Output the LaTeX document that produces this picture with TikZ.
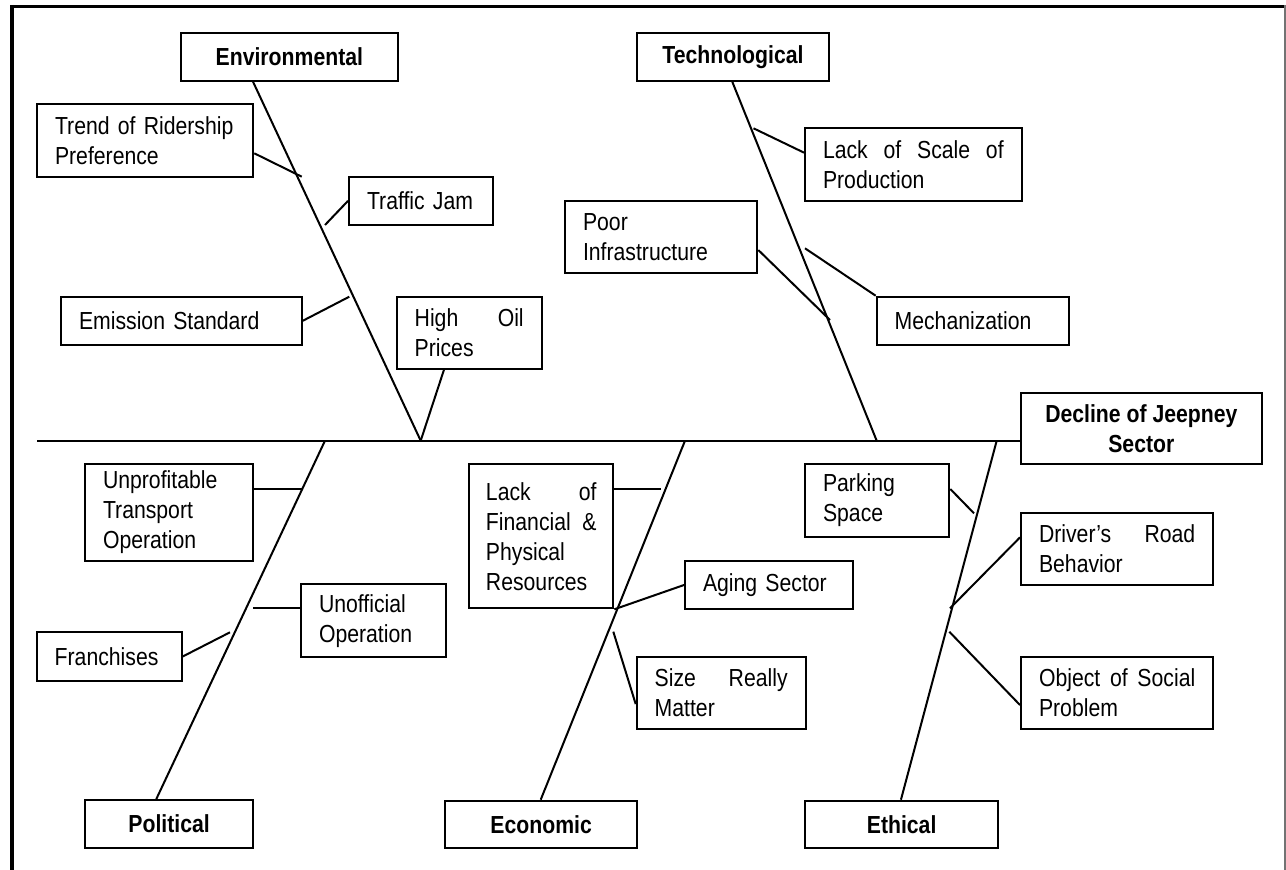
\documentclass[tikz,border=0pt]{standalone}
\usepackage{fontspec}
\setmainfont{Liberation Sans}[FakeStretch=0.86]
\usetikzlibrary{calc}
\begin{document}
\begin{tikzpicture}[x=0.75pt,y=-0.75pt,
  font=\fontsize{18.5pt}{22.5pt}\selectfont,
  line width=1.5pt,
  cbox/.style n args={3}{draw, line width=1.5pt, inner sep=0pt, align=left,
     minimum width=#1pt, text width=#2pt, minimum height=#3pt},
  lbox/.style n args={2}{draw, line width=1.5pt, inner sep=0pt, align=center,
     font=\fontsize{18.5pt}{22.5pt}\selectfont\bfseries,
     minimum width=#1pt, minimum height=#2pt},
  bone/.style={line width=1.5pt},
  twig/.style={line width=1.5pt}]
\useasboundingbox (0,0) rectangle (1286,870);
% frame
\draw[line width=2.6pt] (10,6.7) -- (1286,6.7);
\draw[line width=3pt] (12,5) -- (12,870);
\draw[line width=1.5pt, black!55] (1284.5,5) -- (1284.5,870);

% category boxes
\node[lbox={162.5}{36}] (env) at (289.35,56.7) {Environmental};
\node[lbox={144.5}{36}] (tech) at (733,56.7) {Technological};
\node[lbox={180.5}{53.7}] (decline) at (1141.35,428.5) {Decline of Jeepney\\Sector};
\node[lbox={126.2}{36.2}] (political) at (169.15,824.15) {Political};
\node[lbox={144.2}{35.7}] (economic) at (541.15,824.5) {Economic};
\node[lbox={144.6}{35.7}] (ethical) at (901.65,824.5) {Ethical};

% cause boxes
\node[cbox={162.2}{135.2}{54.3}] (trend) at (145.15,140.5) {Trend of Ridership\\Preference};
\node[cbox={108.2}{81.2}{36.2}] (traffic) at (421.15,200.85) {Traffic Jam};
\node[cbox={162.5}{135.5}{54.5}] (lackscale) at (913.35,164.65) {Lack\hfill of\hfill Scale\hfill of\\Production};
\node[cbox={144.2}{117.2}{54}] (poor) at (661.15,236.7) {Poor\\Infrastructure};
\node[cbox={180.5}{153.5}{36.2}] (emission) at (181.35,320.85) {Emission Standard};
\node[cbox={108.75}{81.75}{54}] (oil) at (469.2,332.7) {High\hfill Oil\\Prices};
\node[cbox={144.5}{117.5}{36.2}] (mech) at (973,320.85) {Mechanization};
\node[cbox={126.2}{99.2}{72.3}] (unprof) at (169.15,512.5) {Unprofitable\\Transport\\Operation};
\node[cbox={108}{83}{108}] (lackfin) at (541.3,536.3) {Lack\hfill of\\Financial\hfill \&\\Physical\\Resources};
\node[cbox={108.2}{81.2}{54.3}] (parking) at (877.15,500.5) {Parking\\Space};
\node[cbox={144.2}{117.2}{54.2}] (driver) at (1117.15,548.85) {Driver’s\hfill Road\\Behavior};
\node[cbox={126.2}{99.2}{36}] (aging) at (769.15,585) {Aging Sector};
\node[cbox={108.5}{81.5}{54.75}] (unoff) at (373.35,620.8) {Unofficial\\Operation};
\node[cbox={108.75}{81.75}{36.3}] (franch) at (109.2,656.5) {Franchises};
\node[cbox={126.75}{99.75}{54.2}] (size) at (721.2,692.85) {Size\hfill Really\\Matter};
\node[cbox={144.2}{117.2}{54.2}] (object) at (1117.15,692.85) {Object\hfill of\hfill Social\\Problem};

% spine and junctions
\coordinate (spineL) at (37,440.7);
\coordinate (jE) at (420.7,440.7);
\coordinate (jT) at (876.7,440.7);
\coordinate (jP) at (325,440.7);
\coordinate (jEc) at (685,440.7);
\coordinate (jEt) at (996.7,440.7);
\draw[bone] (spineL) -- (spineL -| decline.west);

% bones
\draw[bone] ($(env.south west)+(73,0)$) -- (jE);
\draw[bone] ($(tech.south west)+(96.6,0)$) -- (jT);
\draw[bone] ($(political.north west)+(72.3,0)$) -- (jP);
\draw[bone] ($(economic.north west)+(96.7,0)$) -- (jEc);
\draw[bone] ($(ethical.north west)+(96.7,0)$) -- (jEt);

% twig end points
\coordinate (tTrend) at (301.7,176.7);
\coordinate (tTraffic) at (325,225);
\coordinate (tEmission) at (349.3,296.7);
\coordinate (tScale) at (753.5,128.3);
\coordinate (tPoor) at (830,320);
\coordinate (tMech) at (805,248.3);
\coordinate (tUnprof) at (302.5,489);
\coordinate (tUnoff) at (253.3,608.3);
\coordinate (tFranch) at (230,632.3);
\coordinate (tFin) at (661,489);
\coordinate (tSize) at (613.3,631.7);
\coordinate (tPark) at (974,513.3);
\coordinate (tDriver) at (950,608.3);
\coordinate (tObject) at (949.3,631.7);

% twigs
\draw[twig] (jE) -- ($(oil.south west)+(48.3,0)$);
\draw[twig] ($(trend.east)+(0,12.8)$) -- (tTrend);
\draw[twig] (traffic.west) -- (tTraffic);
\draw[twig] (emission.east) -- (tEmission);
\draw[twig] ($(lackscale.west)+(0,-12)$) -- (tScale);
\draw[twig] ($(poor.east)+(0,13.3)$) -- (tPoor);
\draw[twig] (mech.north west) -- (tMech);
\draw[twig] ($(unprof.east)+(0,-23.5)$) -- (tUnprof);
\draw[twig] ($(unoff.west)+(0,-12.5)$) -- (tUnoff);
\draw[twig] (franch.east) -- (tFranch);
\draw[twig] ($(lackfin.east)+(0,-47.3)$) -- (tFin);
\draw[twig] (lackfin.south east) -- (aging.west);
\draw[twig] (tSize) -- ($(size.west)+(0,11.2)$);
\draw[twig] ($(parking.east)+(0,-11.5)$) -- (tPark);
\draw[twig] ($(driver.west)+(0,-11.5)$) -- (tDriver);
\draw[twig] (tObject) -- ($(object.west)+(0,12.2)$);
\end{tikzpicture}
\end{document}
